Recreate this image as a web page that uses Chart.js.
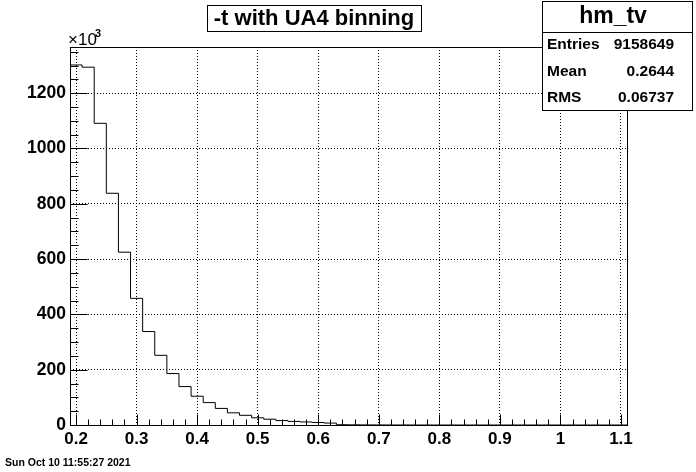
<!DOCTYPE html>
<html>
<head>
<meta charset="utf-8">
<script src="https://cdn.jsdelivr.net/npm/chart.js@4.4.0/dist/chart.umd.min.js"></script>
<style>
  html, body { margin: 0; padding: 0; background: #fff; }
  canvas { display: block; }
</style>
</head>
<body>
<canvas id="myChart" width="696" height="472"></canvas>
<script>
// -t histogram, bins of 0.02 from 0.19 to 1.11 (low edges), counts in units of 10^3
let binEdges = [0.19, 0.21, 0.23, 0.25, 0.27, 0.29, 0.31, 0.33, 0.35, 0.37,
                0.39, 0.41, 0.43, 0.45, 0.47, 0.49, 0.51, 0.53, 0.55, 0.57,
                0.59, 0.61, 0.63, 0.65, 0.67, 0.69, 0.71, 0.73, 0.75, 0.77,
                0.79, 0.81, 0.83, 0.85, 0.87, 0.89, 0.91, 0.93, 0.95, 0.97,
                0.99, 1.01, 1.03, 1.05, 1.07, 1.09]
let upperEdge = 1.11
let counts = [1302, 1294, 1091, 838, 625, 458, 338, 252, 186, 139,
              104, 81, 60, 44, 35, 26, 21, 16, 13, 11,
              9, 7, 1.0, 0.6, 0.3, 0.2, 0.1, 0.1, 0, 0,
              0, 0, 0, 0, 0, 0, 0, 0, 0, 0,
              0, 0, 0, 0, 0, 0]
let xTicks = [0.2, 0.3, 0.4, 0.5, 0.6, 0.7, 0.8, 0.9, 1.0, 1.1]
let yTicks = [0, 200, 400, 600, 800, 1000, 1200]

let statsLabels = ['Entries', 'Mean', 'RMS']
let statsValues = ['9158649', '0.2644', '0.06737']

let points = [{x: binEdges[0], y: 0}]
for (let i = 0; i < counts.length; i++) {
    points.push({x: binEdges[i], y: counts[i]})
}
points.push({x: upperEdge, y: 0})

const FONT = "'Liberation Sans', Arial, Helvetica, sans-serif"

const rootPad = {
    id: 'rootPad',
    beforeDraw(chart) {
        const c = chart.ctx
        c.save()
        c.fillStyle = '#fff'
        c.fillRect(0, 0, chart.width, chart.height)
        c.restore()
    },
    afterDraw(chart) {
        const c = chart.ctx
        const a = chart.chartArea
        const xs = chart.scales.x
        const ys = chart.scales.y
        c.save()
        c.strokeStyle = '#000'
        c.fillStyle = '#000'
        c.lineWidth = 1

        // frame
        const L = Math.round(a.left) + 0.5, R = Math.round(a.right) + 0.5
        const T = Math.round(a.top) + 0.5, B = Math.round(a.bottom) + 0.5
        c.strokeRect(L, T, R - L, B - T)

        // inward ticks on x: major 0.1, minor 0.02
        c.beginPath()
        for (let i = 0; i <= 45; i++) {
            const v = 0.2 + i * 0.02
            const px = Math.round(xs.getPixelForValue(v)) + 0.5
            const len = (i % 5 === 0) ? 11 : 6
            c.moveTo(px, B)
            c.lineTo(px, B - len)
        }
        // inward ticks on y: major 200, minor 50
        for (let i = 0; i <= 27; i++) {
            const v = i * 50
            const py = Math.round(ys.getPixelForValue(v)) + 0.5
            const len = (i % 4 === 0) ? 17 : 8
            c.moveTo(L, py)
            c.lineTo(L + len, py)
        }
        c.stroke()

        // x10^3
        c.textAlign = 'left'
        c.textBaseline = 'alphabetic'
        c.font = '17px ' + FONT
        c.fillText('\u00d710', 68, 45)
        c.font = 'bold 11px ' + FONT
        c.fillText('3', 95, 37)

        // title box
        c.fillStyle = '#fff'
        c.fillRect(207, 5, 214, 26)
        c.strokeRect(207.5, 5.5, 214, 26)
        c.fillStyle = '#000'
        c.font = 'bold 22px ' + FONT
        c.textAlign = 'center'
        c.textBaseline = 'middle'
        c.fillText('-t with UA4 binning', 314, 19)

        // stats box
        c.fillStyle = '#fff'
        c.fillRect(542, 1, 150, 109)
        c.strokeRect(542.5, 1.5, 150, 109)
        c.beginPath()
        c.moveTo(542.5, 32.5)
        c.lineTo(692.5, 32.5)
        c.stroke()
        c.fillStyle = '#000'
        c.font = 'bold 23px ' + FONT
        c.fillText('hm_tv', 613, 17)
        c.font = 'bold 15.5px ' + FONT
        const rows = [45, 72, 98]
        for (let i = 0; i < statsLabels.length; i++) {
            c.textAlign = 'left'
            c.fillText(statsLabels[i], 547, rows[i])
            c.textAlign = 'right'
            c.fillText(statsValues[i], 674, rows[i])
        }

        // date stamp
        c.textAlign = 'left'
        c.textBaseline = 'alphabetic'
        c.font = 'bold 10.5px ' + FONT
        c.fillText('Sun Oct 10 11:55:27 2021', 5, 466)
        c.restore()
    }
}

var ctx = document.getElementById('myChart')

new Chart(ctx, {
    type: 'line',
    data: {
        datasets: [{
            label: 'hm_tv',
            data: points,
            stepped: 'before',
            borderColor: '#000',
            borderWidth: 1,
            pointRadius: 0,
            fill: false,
            tension: 0
        }]
    },
    options: {
        responsive: false,
        animation: false,
        events: [],
        layout: {
            padding: {top: 47, right: 69, left: 0, bottom: 0}
        },
        plugins: {
            legend: {display: false},
            title: {display: false},
            tooltip: {enabled: false}
        },
        scales: {
            x: {
                type: 'linear',
                min: 0.19,
                max: upperEdge,
                afterBuildTicks: (scale) => { scale.ticks = xTicks.map(v => ({value: v})) },
                afterFit: (scale) => { scale.height = 47 },
                grid: {color: '#000', lineWidth: 1, drawTicks: false},
                border: {display: false, dash: [1, 2]},
                ticks: {
                    color: '#000',
                    padding: 4,
                    maxRotation: 0,
                    autoSkip: false,
                    font: {family: FONT, size: 17, weight: 'bold'},
                    callback: (v) => String(Number(v.toFixed(2)))
                }
            },
            y: {
                type: 'linear',
                min: 0,
                max: 1367,
                afterBuildTicks: (scale) => { scale.ticks = yTicks.map(v => ({value: v})) },
                afterFit: (scale) => { scale.width = 70 },
                grid: {color: '#000', lineWidth: 1, drawTicks: false},
                border: {display: false, dash: [1, 2]},
                ticks: {
                    color: '#000',
                    padding: 4,
                    autoSkip: false,
                    font: {family: FONT, size: 17.5, weight: 'bold'},
                    callback: (v) => String(v)
                }
            }
        }
    },
    plugins: [rootPad]
})
</script>
</body>
</html>
